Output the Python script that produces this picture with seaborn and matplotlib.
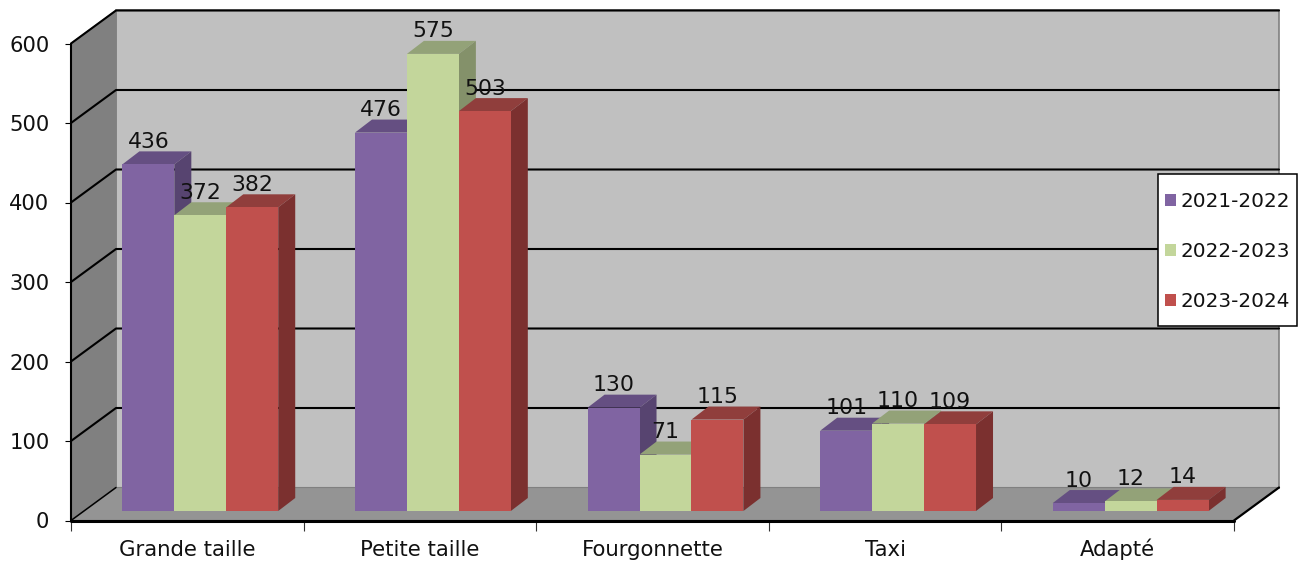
import matplotlib
matplotlib.use('Agg')
import matplotlib.pyplot as plt
from matplotlib.patches import Polygon, Rectangle
import pandas as pd
import seaborn as sns

categories = ['Grande taille', 'Petite taille', 'Fourgonnette', 'Taxi', 'Adapté']
values_2021 = [436, 476, 130, 101, 10]
values_2022 = [372, 575, 71, 110, 12]
values_2023 = [382, 503, 115, 109, 14]
seasons = ['2021-2022', '2022-2023', '2023-2024']
yticks = [0, 100, 200, 300, 400, 500, 600]

front_colors = ['#8064A2', '#C3D69B', '#C0504D']
top_colors = ['#654F82', '#93A278', '#903E3C']
side_colors = ['#574470', '#84916A', '#7B302F']

W, H = 1298, 563
LEFT, RIGHT, BOTTOM, TOP = 71, 1234, 520.5, 43.5
WALL_DX, WALL_DY = 45, 33     # depth of the chart box, px
BAR_DX, BAR_DY = 17, 13       # depth of a bar, px
SHIFT_X, SHIFT_Y = 13, 9.5    # bars sit a bit inside the floor, px


def x_px(p):
    return p * 5 / (RIGHT - LEFT)


def y_px(p):
    return p * 600 / (BOTTOM - TOP)


def add_face(ax, points, color, zorder, edge='none', lw=0.0):
    ax.add_patch(Polygon(points, closed=True, facecolor=color, edgecolor=edge,
                         linewidth=lw, zorder=zorder, clip_on=False))


def draw_box(ax):
    x0, x1 = -0.5, 4.5
    dx, dy = x_px(WALL_DX), y_px(WALL_DY)
    add_face(ax, [(x0 + dx, dy), (x1 + dx, dy), (x1 + dx, 600 + dy), (x0 + dx, 600 + dy)], '#C0C0C0', 1, '#808080', 1.2)
    add_face(ax, [(x0, 0), (x0 + dx, dy), (x0 + dx, 600 + dy), (x0, 600)], '#808080', 1.1, '#808080', 1.0)
    add_face(ax, [(x0, 0), (x1, 0), (x1 + dx, dy), (x0 + dx, dy)], '#949494', 1.2, '#808080', 0.8)

    for tick in yticks:
        lw = 1.1 if tick == 0 else 1.5
        xs = [x0, x0 + dx] if tick == 0 else [x0, x0 + dx, x1 + dx]
        ys = [tick, tick + dy] if tick == 0 else [tick, tick + dy, tick + dy]
        ax.plot(xs, ys, color='black', lw=lw, zorder=2, clip_on=False, solid_capstyle='round')
    ax.plot([x0, x0], [0, 600], color='black', lw=1.5, zorder=3, clip_on=False)
    ax.plot([x0, x1], [0, 0], color='black', lw=2.2, zorder=3, clip_on=False)
    ax.plot([x1, x1 + dx], [0, dy], color='black', lw=1.6, zorder=3, clip_on=False)


def draw_bars(ax):
    dx, dy = x_px(BAR_DX), y_px(BAR_DY)
    for j, container in enumerate(ax.containers):
        for bar in container:
            bar.set_x(bar.get_x() + x_px(SHIFT_X))
            bar.set_y(bar.get_y() + y_px(SHIFT_Y))
            bar.set_zorder(10 + j + 0.5)
            bar.set_clip_on(False)
            left, right = bar.get_x(), bar.get_x() + bar.get_width()
            low, high = bar.get_y(), bar.get_y() + bar.get_height()
            add_face(ax, [(left, high), (right, high), (right + dx, high + dy), (left + dx, high + dy)], top_colors[j], 10 + j)
            add_face(ax, [(right, low), (right + dx, low + dy), (right + dx, high + dy), (right, high)], side_colors[j], 10 + j)
            ax.text((left + right) / 2, high + dy + y_px(3.5), f'{bar.get_height():.0f}',
                    ha='center', va='baseline', fontsize=15.8, color='#111111', zorder=40)


def main():
    df = pd.DataFrame({
        'categorie': categories * 3,
        'annee': [s for s in seasons for _ in categories],
        'valeur': values_2021 + values_2022 + values_2023,
    })

    sns.set_theme(style='white', font='DejaVu Sans')
    fig = plt.figure(figsize=(W / 100, H / 100), dpi=100)
    ax = fig.add_axes([LEFT / W, 1 - BOTTOM / H, (RIGHT - LEFT) / W, (BOTTOM - TOP) / H])

    sns.barplot(data=df, x='categorie', y='valeur', hue='annee', palette=front_colors,
                order=categories, hue_order=seasons, width=0.67, gap=0, saturation=1,
                linewidth=0, errorbar=None, ax=ax)

    ax.set_xlim(-0.5, 4.5)
    ax.set_ylim(0, 600)
    ax.set_xlabel('')
    ax.set_ylabel('')
    ax.patch.set_visible(False)
    sns.despine(ax=ax, left=True, bottom=True)

    ax.set_yticks(yticks)
    ax.set_xticks(range(len(categories)))
    ax.set_xticklabels(categories)
    ax.set_xticks([i - 0.5 for i in range(len(categories) + 1)], minor=True)
    ax.tick_params(axis='y', left=True, length=4.5, width=0.8, color='black', labelsize=15.2, pad=11, labelcolor='#111111')
    ax.tick_params(axis='x', which='major', bottom=False, labelsize=15.3, pad=19.5, labelcolor='#111111')
    ax.tick_params(axis='x', which='minor', bottom=True, length=7, width=0.8, color='#333333')
    # baseline alignment, otherwise the accent in Adapté pushes that label down
    for label in ax.get_xticklabels():
        label.set_verticalalignment('baseline')

    draw_box(ax)
    draw_bars(ax)

    ax.add_patch(Rectangle((1158 / W, 1 - 326 / H), 139 / W, 152 / H, transform=fig.transFigure,
                           facecolor='white', edgecolor='black', linewidth=1.1, zorder=49, clip_on=False))
    sns.move_legend(ax, 'upper left', bbox_to_anchor=(1148 / W, 1 - 175 / H), bbox_transform=fig.transFigure,
                    title=None, frameon=False, borderaxespad=0, borderpad=0.85, fontsize=14.4,
                    handlelength=0.55, handleheight=0.55, handletextpad=0.25, labelspacing=1.55, labelcolor='#111111')
    ax.get_legend().set_zorder(50)

    fig.savefig('out.png', dpi=100, facecolor='white')
    plt.close(fig)


if __name__ == '__main__':
    main()
